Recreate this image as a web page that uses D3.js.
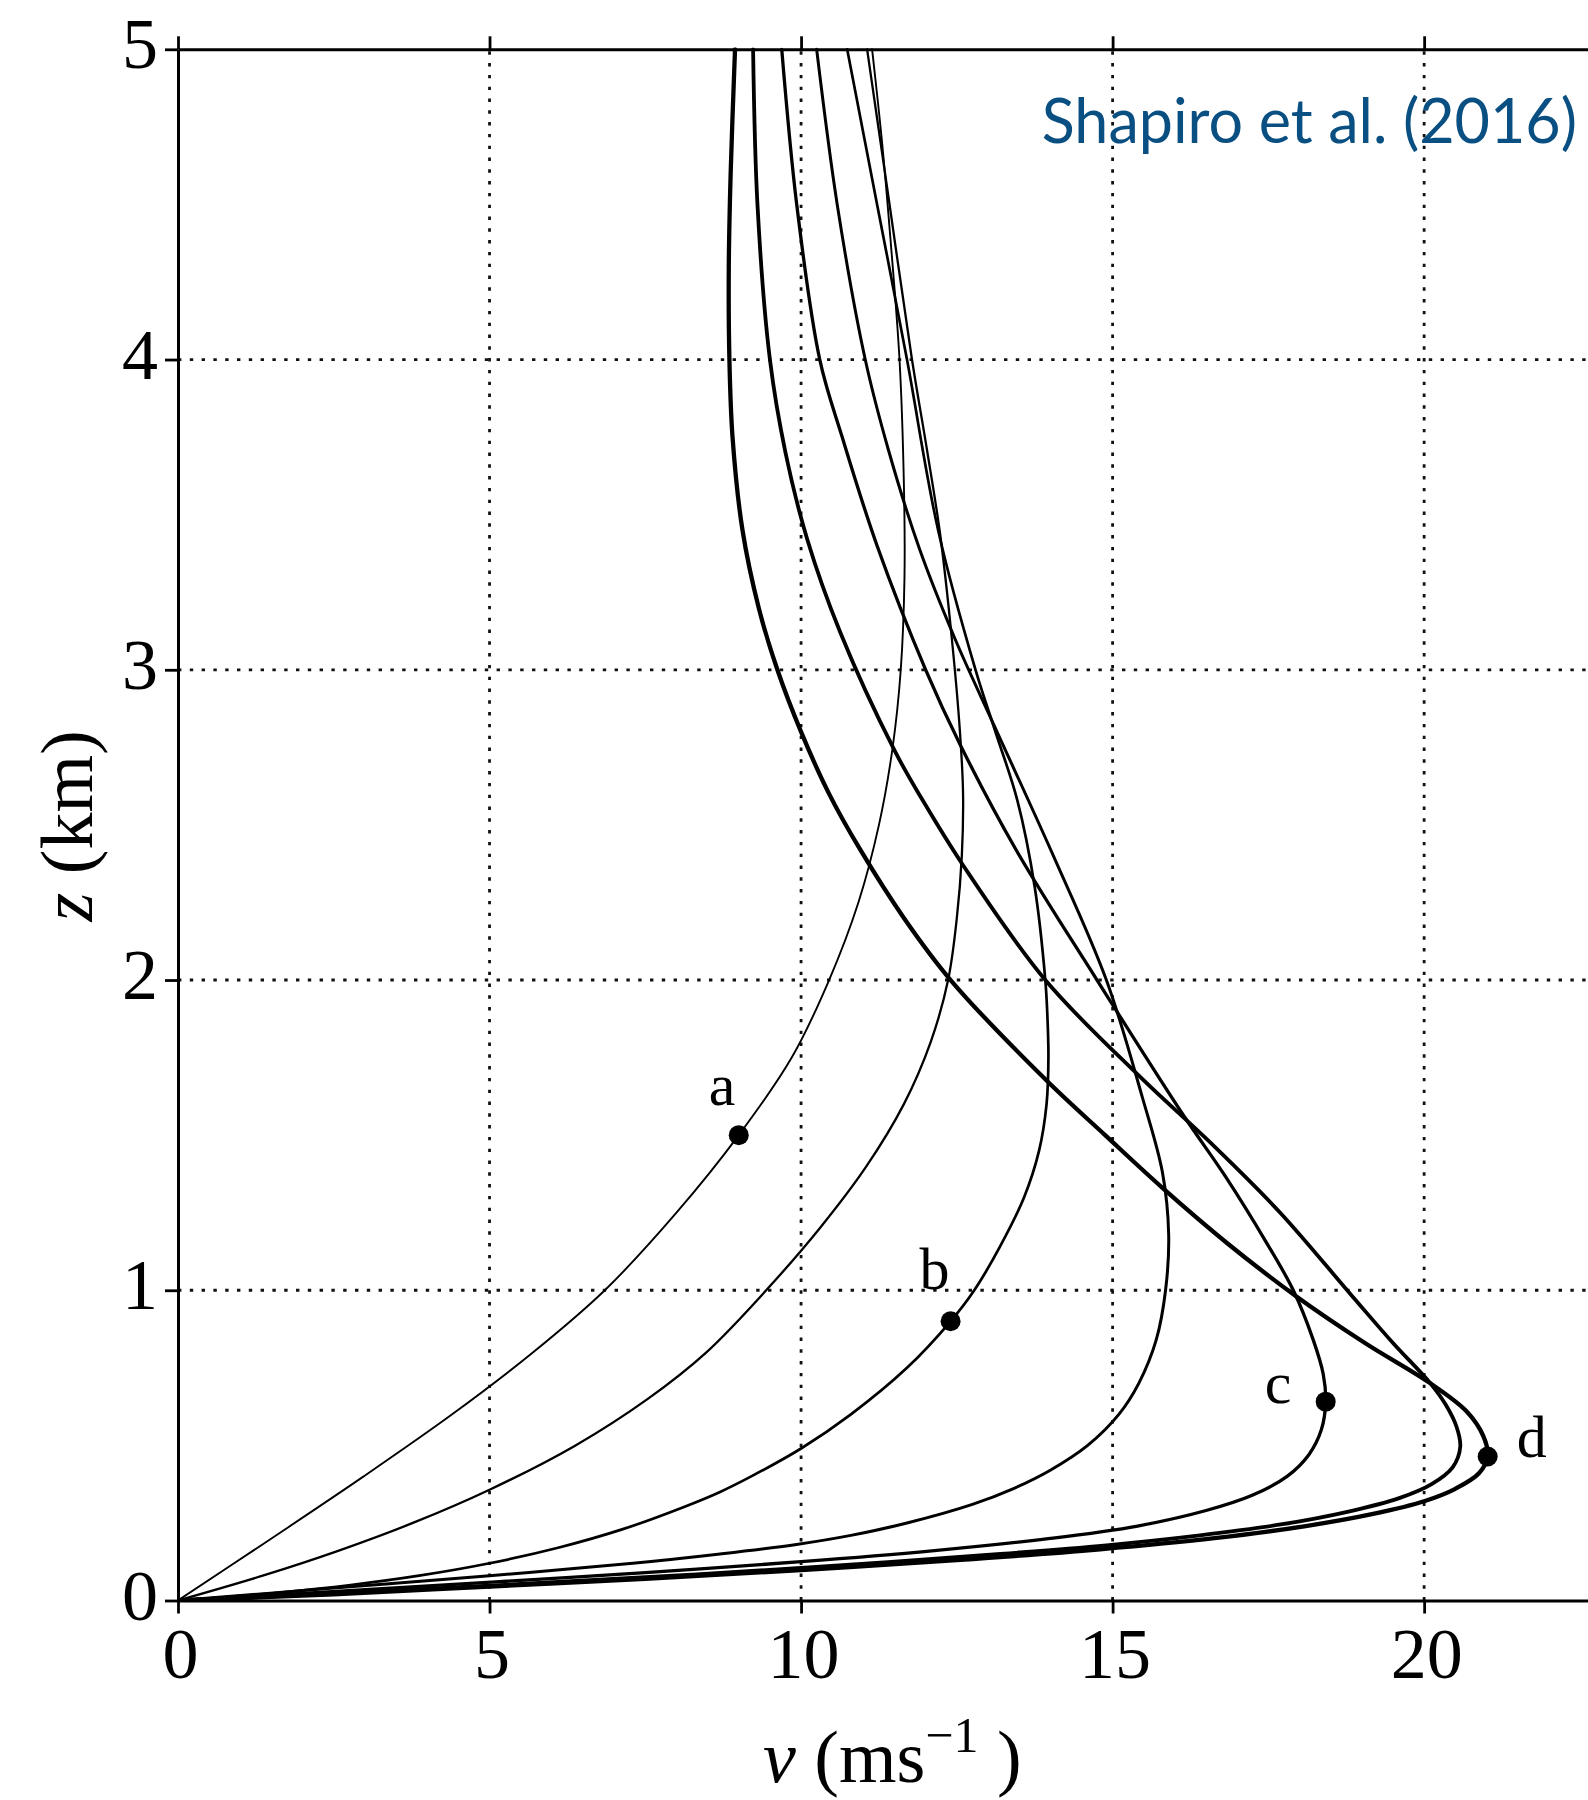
<!DOCTYPE html>
<html>
<head>
<meta charset="utf-8">
<script src="https://cdn.jsdelivr.net/npm/d3@7"></script>
<style>
  html, body { margin: 0; padding: 0; background: #ffffff; }
  svg { display: block; }
</style>
</head>
<body>
<svg id="chart" width="1588" height="1800"></svg>
<script>
// ---------------- data (v in m/s, z in km) ----------------
const xTickValues = [0, 5, 10, 15, 20];
const zTickValues = [0, 1, 2, 3, 4, 5];
const xTickLabels = ["0", "5", "10", "15", "20"];
const zTickLabels = ["0", "1", "2", "3", "4", "5"];

// each profile: [v, z]
const curveA = [[0,0],[1.5,0.2],[2.98,0.4],[4.4,0.6],[5.7,0.8],[6.85,1.0],[8.0,1.25],[9.0,1.5],[9.85,1.75],[10.45,2.0],[10.92,2.25],[11.25,2.5],[11.47,2.75],[11.6,3.0],[11.66,3.3],[11.65,3.6],[11.58,4.0],[11.43,4.4],[11.3,4.7],[11.14,5.0]];
const curve2 = [[0,0],[1.36,0.08],[2.57,0.16],[3.77,0.25],[5.0,0.357],[6.38,0.5],[7.54,0.65],[8.48,0.8],[9.44,1.0],[10.3,1.2],[11.05,1.4],[11.65,1.6],[12.08,1.8],[12.36,2.0],[12.5,2.2],[12.58,2.4],[12.6,2.6],[12.55,2.8],[12.42,3.1],[12.23,3.44],[12.02,3.71],[11.78,4.0],[11.42,4.5],[11.06,5.0]];
const curveB = [[0,0],[0.71,0.01],[1.6,0.025],[2.77,0.05],[3.87,0.08],[5.0,0.12],[6.1,0.17],[7.14,0.23],[8.1,0.3],[8.7,0.35],[9.2,0.4],[10.0,0.49],[10.8,0.6],[11.7,0.75],[12.4,0.9],[12.78,1.0],[13.19,1.14],[13.58,1.3],[13.82,1.45],[13.94,1.6],[13.97,1.75],[13.95,1.9],[13.92,2.0],[13.75,2.3],[13.47,2.58],[13.12,2.8],[12.8,3.0],[12.2,3.45],[11.7,4.0],[11.22,4.5],[10.74,5.0]];
const curve4 = [[0,0],[2.5,0.04],[5.0,0.08],[7.3,0.12],[8.7,0.15],[9.9,0.18],[10.8,0.21],[11.7,0.25],[12.75,0.31],[13.4,0.36],[14.0,0.42],[14.6,0.5],[15.1,0.6],[15.42,0.7],[15.7,0.84],[15.85,1.0],[15.9,1.18],[15.8,1.38],[15.48,1.62],[14.9,2.0],[14.05,2.4],[13.1,2.82],[12.47,3.1],[11.9,3.39],[11.4,3.71],[11.03,4.0],[10.58,4.5],[10.25,5.0]];
const curveC = [[0,0],[2.6,0.03],[5.1,0.06],[7.5,0.09],[10.0,0.125],[12.1,0.16],[14.0,0.2],[15.4,0.24],[16.5,0.29],[17.25,0.34],[17.8,0.4],[18.15,0.47],[18.35,0.55],[18.42,0.641],[18.38,0.73],[18.22,0.84],[17.9,1.0],[17.45,1.16],[16.8,1.37],[16.15,1.56],[14.75,2.0],[13.45,2.42],[12.55,2.76],[12.0,3.0],[11.22,3.4],[10.66,3.75],[10.3,4.0],[9.93,4.5],[9.69,5.0]];
const curve6 = [[0,0],[2.5,0.022],[5.0,0.048],[7.5,0.075],[10.0,0.105],[13.2,0.15],[14.9,0.178],[16.4,0.21],[17.7,0.245],[18.75,0.285],[19.6,0.33],[20.12,0.375],[20.46,0.43],[20.58,0.496],[20.52,0.56],[20.35,0.63],[20.1,0.70],[19.5,0.83],[18.85,0.98],[17.69,1.25],[16.6,1.47],[15.43,1.69],[13.92,2.0],[12.6,2.37],[11.95,2.58],[11.5,2.74],[10.63,3.12],[10.1,3.42],[9.75,3.7],[9.5,4.0],[9.3,4.5],[9.23,5.0]];
const curveD = [[0,0],[2.5,0.02],[5.0,0.045],[7.5,0.07],[10.0,0.098],[12.5,0.13],[14.8,0.165],[16.6,0.2],[18.1,0.24],[19.2,0.28],[20.0,0.32],[20.5,0.36],[20.88,0.41],[21.02,0.464],[20.95,0.53],[20.68,0.61],[20.1,0.70],[19.05,0.83],[17.95,0.98],[16.85,1.15],[15.8,1.33],[14.88,1.5],[13.92,1.68],[12.4,2.0],[11.65,2.2],[10.95,2.42],[10.45,2.6],[10.0,2.8],[9.62,3.0],[9.32,3.2],[9.06,3.45],[8.9,3.75],[8.85,4.0],[8.84,4.3],[8.87,4.6],[8.94,5.0]];

const seriesCurves = [curveA, curve2, curveB, curve4, curveC, curve6, curveD];
const seriesWidths = [1.9, 2.3, 2.7, 3.0, 3.3, 3.8, 4.3];

const markerNames = ["a", "b", "c", "d"];
const markerPoints = [[9.0, 1.5], [12.4, 0.9], [18.42, 0.641], [21.02, 0.464]];
const markerLabelOffsets = [[-30, -30], [-31, -32], [-61, 1], [29, 0]];

const titleText = "Shapiro et al. (2016)";

// ---------------- layout ----------------
const svg = d3.select("#chart");
const mLeft = 178, mRight = 1588, mTop = 49.3, mBottom = 1600.5;

const x = d3.scaleLinear().domain([0, 22.63]).range([mLeft, mRight]);
const y = d3.scaleLinear().domain([0, 5]).range([mBottom, mTop]);

const serif = "'Liberation Serif', 'Times New Roman', 'DejaVu Serif', serif";

// grid
const grid = svg.append("g").attr("class", "grid");
grid.selectAll("line.vg").data(xTickValues.filter(d => d > 0)).join("line")
  .attr("x1", d => x(d)).attr("x2", d => x(d))
  .attr("y1", y(0)).attr("y2", y(5))
  .attr("stroke", "#111").attr("stroke-width", 2.8)
  .attr("stroke-dasharray", "3.4,8.4");
grid.selectAll("line.hg").data(zTickValues.filter(d => d > 0 && d < 5)).join("line")
  .attr("x1", x(0)).attr("x2", mRight)
  .attr("y1", d => y(d)).attr("y2", d => y(d))
  .attr("stroke", "#111").attr("stroke-width", 2.8)
  .attr("stroke-dasharray", "3.4,8.4");

// curves
svg.append("clipPath").attr("id", "plotclip")
  .append("rect").attr("x", mLeft).attr("y", mTop - 2).attr("width", mRight - mLeft).attr("height", mBottom - mTop + 2);

const line = d3.line()
  .x(d => x(d[0]))
  .y(d => y(d[1]))
  .curve(d3.curveCatmullRom.alpha(0.5));

svg.append("g").attr("clip-path", "url(#plotclip)")
  .selectAll("path").data(seriesCurves).join("path")
  .attr("d", d => line(d))
  .attr("fill", "none")
  .attr("stroke", "#000")
  .attr("stroke-width", (d, i) => seriesWidths[i])
  .attr("stroke-linejoin", "round")
  .attr("stroke-linecap", "round");

// axes
function styleAxis(g) {
  g.select(".domain").attr("stroke", "#000").attr("stroke-width", 3);
  g.selectAll(".tick line").attr("stroke", "#000").attr("stroke-width", 2.8);
}

const axB = svg.append("g").attr("transform", `translate(0,${mBottom})`)
  .call(d3.axisBottom(x).tickValues(xTickValues).tickSize(13).tickSizeOuter(0)
    .tickFormat((d, i) => xTickLabels[i]));
styleAxis(axB);
axB.selectAll("text").attr("y", 77).attr("dy", 0).attr("dx", 2)
  .style("font-family", serif).style("font-size", "72px").attr("fill", "#000");

const axL = svg.append("g").attr("transform", `translate(${mLeft},0)`)
  .call(d3.axisLeft(y).tickValues(zTickValues).tickSize(13).tickSizeOuter(0)
    .tickFormat((d, i) => zTickLabels[i]));
styleAxis(axL);
axL.selectAll("text").attr("x", -20).attr("dy", 0).attr("y", 18.5)
  .style("font-family", serif).style("font-size", "72px").attr("fill", "#000");

const axT = svg.append("g").attr("transform", `translate(0,${mTop})`)
  .call(d3.axisTop(x).tickValues(xTickValues).tickSize(13).tickSizeOuter(0).tickFormat(""));
styleAxis(axT);

// markers
svg.append("g").selectAll("circle").data(markerPoints).join("circle")
  .attr("cx", d => x(d[0])).attr("cy", d => y(d[1])).attr("r", 10).attr("fill", "#000");
svg.append("g").selectAll("text").data(markerPoints).join("text")
  .attr("x", (d, i) => x(d[0]) + markerLabelOffsets[i][0])
  .attr("y", (d, i) => y(d[1]) + markerLabelOffsets[i][1])
  .text((d, i) => markerNames[i])
  .style("font-family", serif).style("font-size", "60px").attr("fill", "#000");

// axis titles
const xl = svg.append("text").attr("x", 763).attr("y", 1782)
  .style("font-family", serif).style("font-size", "74px").attr("fill", "#000");
xl.append("tspan").style("font-style", "italic").text("v");
xl.append("tspan").text(" (ms");
xl.append("tspan").attr("dy", -30).style("font-size", "50px").text("\u22121");
xl.append("tspan").attr("dy", 30).text(" )");

const yl = svg.append("text").attr("transform", "translate(92,826) rotate(-90)")
  .attr("text-anchor", "middle")
  .style("font-family", serif).style("font-size", "74px").attr("fill", "#000");
yl.append("tspan").style("font-style", "italic").text("z");
yl.append("tspan").text(" (km)");

// title
svg.append("text").attr("x", 1577).attr("y", 143)
  .attr("text-anchor", "end")
  .style("font-family", "Lato, 'Open Sans', sans-serif").style("font-size", "61px")
  .attr("fill", "#0a4f82").text(titleText);
</script>
</body>
</html>
